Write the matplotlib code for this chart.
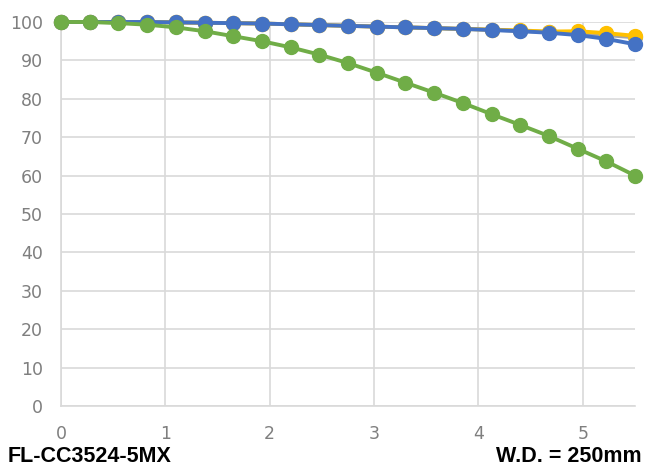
import matplotlib
matplotlib.use('Agg')
import matplotlib.pyplot as plt

# image height (mm) vs relative illumination (%)
x_mm = [0.0, 0.275, 0.55, 0.825, 1.1, 1.375, 1.65, 1.925, 2.2, 2.475, 2.75,
        3.025, 3.3, 3.575, 3.85, 4.125, 4.4, 4.675, 4.95, 5.225, 5.5]

grey = [100, 100, 100, 100, 99.9, 99.8, 99.7, 99.6, 99.4, 99.2, 99.0,
        98.8, 98.6, 98.4, 98.2, 98.0, 97.7, 97.4, 97.0, 96.6, 96.0]
yellow = [100, 100, 100, 100, 99.9, 99.8, 99.7, 99.6, 99.4, 99.2, 99.0,
          98.8, 98.6, 98.4, 98.2, 98.0, 97.8, 97.5, 97.6, 97.1, 96.4]
blue = [100, 100, 100, 100, 99.9, 99.8, 99.7, 99.6, 99.4, 99.2, 99.0,
        98.8, 98.6, 98.4, 98.2, 97.9, 97.6, 97.2, 96.6, 95.6, 94.2]
green = [100, 100, 99.7, 99.3, 98.6, 97.6, 96.3, 95.0, 93.4, 91.5, 89.3,
         86.8, 84.2, 81.6, 78.9, 76.0, 73.2, 70.3, 67.0, 63.7, 60.0]

series = [
    (grey, '#A5A5A5'),
    (yellow, '#FFC000'),
    (blue, '#4472C4'),
    (green, '#70AD47'),
]

TICK_COLOR = '#7F7F7F'
GRID_COLOR = '#D9D9D9'

fig = plt.figure(figsize=(6.45, 4.68), dpi=100)
ax = fig.add_axes([0.0946, 0.1325, 0.8899, 0.8205])

for vals, col in series:
    ax.plot(x_mm, vals, color=col, lw=2.8, marker='o', ms=10,
            clip_on=False, zorder=3)

ax.set_xlim(0, 5.5)
ax.set_ylim(0, 100)
ax.set_xticks(range(0, 6))
ax.set_yticks(range(0, 101, 10))
ax.grid(True, color=GRID_COLOR, lw=1.2)
ax.set_axisbelow(True)
for side in ('top', 'right'):
    ax.spines[side].set_visible(False)
for side in ('left', 'bottom'):
    ax.spines[side].set_color(GRID_COLOR)
    ax.spines[side].set_linewidth(1.2)
ax.tick_params(length=0, colors=TICK_COLOR, labelsize=12.5)
ax.tick_params(axis='x', pad=14)
ax.tick_params(axis='y', pad=13)

fig.text(0.012, 0.002, 'FL-CC3524-5MX', fontsize=15.5, fontweight='bold',
         family='Liberation Sans', ha='left', va='bottom')
fig.text(0.995, 0.002, 'W.D. = 250mm', fontsize=15.5, fontweight='bold',
         family='Liberation Sans', ha='right', va='bottom')

fig.savefig('out.png', dpi=100)
